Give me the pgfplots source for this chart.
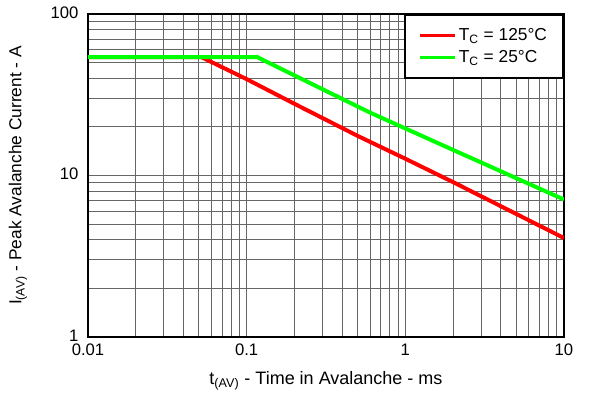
\documentclass[border=0pt]{standalone}
\usepackage{pgfplots}
\pgfplotsset{compat=1.18}
\usepackage{fontspec}
\setmainfont{Liberation Sans}
\begin{document}
\begin{tikzpicture}
\begin{axis}[
  scale only axis,
  width=357pt, height=242.25pt,
  xmode=log, ymode=log,
  xmin=0.01, xmax=10, ymin=1, ymax=100,
  xtick={0.01,0.1,1,10}, xticklabels={0.01,0.1,1,10},
  ytick={1,10,100}, yticklabels={1,10,100},
  /pgf/number format/assume math mode=true,
  grid=both,
  major grid style={black!60, line width=0.7pt},
  minor grid style={black!60, line width=0.7pt},
  major tick length=0pt, minor tick length=0pt,
  axis line style={line width=1.5pt},
  xticklabel style={font=\fontsize{12.5}{14}\selectfont, inner sep=1pt, yshift=-4pt},
  yticklabel style={font=\fontsize{12.5}{14}\selectfont, inner sep=1pt, xshift=-6pt, yshift=1pt},
  xlabel={t\textsubscript{(AV)} - Time in Avalanche - ms},
  ylabel={I\textsubscript{(AV)} - Peak Avalanche Current - A},
  xlabel style={font=\fontsize{13.5}{15}\selectfont, at={(axis description cs:0.5,-0.136)}, anchor=center},
  ylabel style={font=\fontsize{13}{15}\selectfont, at={(axis description cs:-0.147,0.5)}, anchor=center},
  legend style={at={(1,1)}, anchor=north east, draw=black, line width=1.5pt,
    fill=white, font=\fontsize{13}{15}\selectfont, inner xsep=10pt, inner ysep=8pt,
    row sep=2pt, cells={anchor=west}},
  legend image code/.code={\draw[#1, line width=2.4pt] (0pt,0pt) -- (26pt,0pt);},
  legend cell align=left,
]
\addplot[red, line width=3pt] coordinates {
 (0.01,54) (0.052,54) (0.1,39.5) (0.2,27.8) (0.5,17.6) (1,12.7) (2,9.1) (10,4.1)
};
\addlegendentry{T\textsubscript{C} = 125°C}
\addplot[green, line width=3pt] coordinates {
 (0.01,54) (0.117,54) (0.6,24.5) (2,14.4) (10,7.1)
};
\addlegendentry{T\textsubscript{C} = 25°C}
\node[font=\fontsize{7}{8}\selectfont] at (axis description cs:1.023,-0.136) {G001};
\end{axis}
\pgfresetboundingbox
\path ([xshift=-66pt,yshift=-42.75pt]current axis.south west) rectangle ([xshift=21pt,yshift=10.5pt]current axis.north east);
\end{tikzpicture}
\end{document}
